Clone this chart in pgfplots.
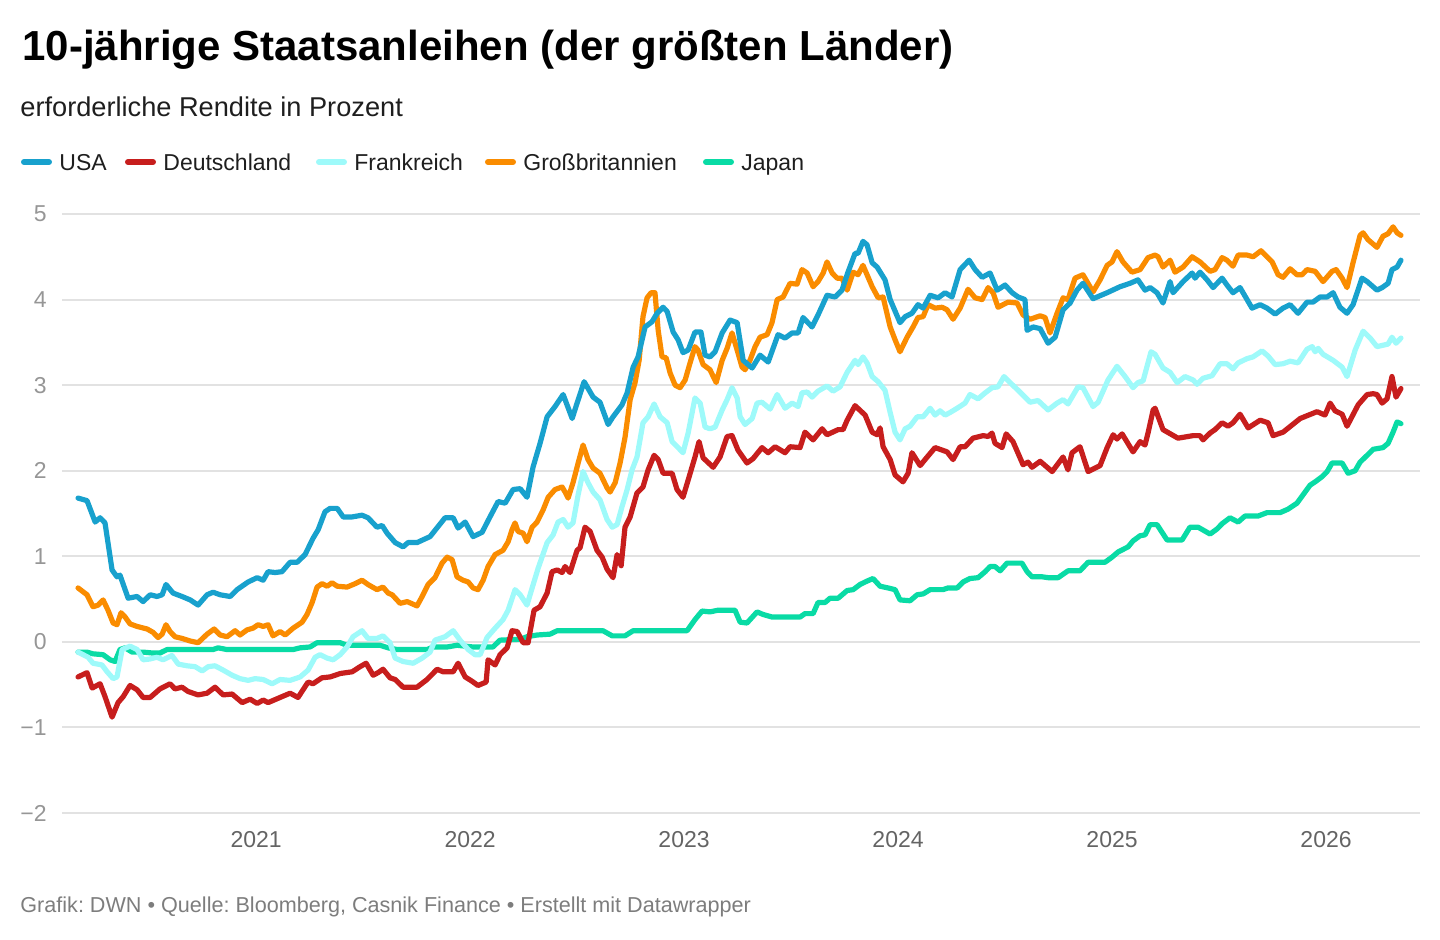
\documentclass[border=0pt]{standalone}
\usepackage{pgfplots}
\pgfplotsset{compat=1.18}
\usepackage{fontspec}
\setmainfont{Liberation Sans}
\definecolor{cUSA}{RGB}{24,161,205}
\definecolor{cDE}{RGB}{199,30,29}
\definecolor{cFR}{RGB}{158,250,250}
\definecolor{cGB}{RGB}{250,140,0}
\definecolor{cJP}{RGB}{9,219,165}
\definecolor{gridc}{RGB}{226,226,226}
\definecolor{ylab}{RGB}{150,150,150}
\definecolor{xlab}{RGB}{100,100,100}
\definecolor{foot}{RGB}{125,125,125}
\definecolor{txt}{RGB}{30,30,30}
\frenchspacing
\begin{document}
\begin{tikzpicture}
\path[use as bounding box] (0,0) rectangle (720pt,470pt);
% title, subtitle
\node[anchor=base west, inner sep=0pt] at (11pt,439.5pt) {\fontsize{21}{24}\selectfont\bfseries 10-jährige Staatsanleihen (der größten Länder)};
\node[anchor=base west, inner sep=0pt, text=txt] at (10pt,411.75pt) {\fontsize{13.6}{16}\selectfont erforderliche Rendite in Prozent};
% legend
\foreach \xa/\xt/\col/\lab in {10.5/29.5/cUSA/USA, 62.5/81.5/cDE/Deutschland, 158/177/cFR/Frankreich, 242.5/261.5/cGB/Großbritannien, 351.5/370.5/cJP/Japan}{
  \draw[\col, line width=3pt, line cap=round] (\xa pt+1.5pt,389pt) -- (\xa pt+14pt,389pt);
  \node[anchor=base west, inner sep=0pt, text=txt] at (\xt pt,384.5pt) {\fontsize{11.5}{14}\selectfont \lab};
}
% footer
\node[anchor=base west, inner sep=0pt, text=foot] at (10pt,13.5pt) {\fontsize{10.8}{12}\selectfont Grafik: DWN • Quelle: Bloomberg, Casnik Finance • Erstellt mit Datawrapper};
\begin{axis}[
  at={(31pt,63.5pt)}, anchor=south west,
  width=679pt, height=299.5pt, scale only axis,
  xmin=2020.093, xmax=2026.439, ymin=-2, ymax=5,
  axis line style={draw=none},
  tick style={draw=none},
  xtick={2021,2022,2023,2024,2025,2026},
  xticklabels={2021,2022,2023,2024,2025,2026},
  ytick={-2,-1,0,1,2,3,4,5},
  yticklabels={−2,−1,0,1,2,3,4,5},
  ymajorgrids,
  major grid style={gridc, line width=1pt},
  extra y ticks={0},
  extra y tick labels={},
  extra y tick style={grid style={black, line width=1pt}},
  xticklabel style={anchor=base, yshift=-17.5pt, text=xlab, font=\fontsize{11.5}{14}\selectfont},
  yticklabel style={anchor=east, inner sep=0pt, xshift=-7.5pt, text=ylab, font=\fontsize{11.5}{14}\selectfont},
  every axis plot/.append style={line width=2.6pt, line join=round, line cap=round, no markers},
]
% Japan
\addplot[cJP] coordinates {
(2020.168,-0.12)(2020.210,-0.12)(2020.238,-0.14)(2020.285,-0.15)(2020.318,-0.21)(2020.341,-0.23)(2020.364,-0.09)(2020.388,-0.07)(2020.421,-0.12)(2020.472,-0.12)(2020.514,-0.13)(2020.551,-0.13)(2020.584,-0.09)(2020.799,-0.09)(2020.822,-0.07)(2020.864,-0.09)(2021.173,-0.09)(2021.206,-0.07)(2021.252,-0.06)(2021.285,-0.01)(2021.393,-0.01)(2021.425,-0.04)(2021.579,-0.04)(2021.617,-0.07)(2021.659,-0.09)(2021.799,-0.09)(2021.827,-0.06)(2021.893,-0.06)(2021.939,-0.04)(2022.014,-0.06)(2022.107,-0.06)(2022.140,0.02)(2022.234,0.03)(2022.266,0.06)(2022.313,0.08)(2022.374,0.09)(2022.407,0.13)(2022.621,0.13)(2022.664,0.07)(2022.724,0.07)(2022.762,0.13)(2023.014,0.13)(2023.051,0.26)(2023.084,0.36)(2023.121,0.35)(2023.159,0.37)(2023.238,0.37)(2023.262,0.23)(2023.294,0.22)(2023.341,0.35)(2023.369,0.32)(2023.411,0.29)(2023.542,0.29)(2023.565,0.33)(2023.603,0.33)(2023.626,0.46)(2023.659,0.46)(2023.682,0.51)(2023.720,0.51)(2023.762,0.60)(2023.790,0.61)(2023.822,0.67)(2023.855,0.71)(2023.883,0.74)(2023.916,0.65)(2023.953,0.63)(2023.986,0.61)(2024.009,0.49)(2024.056,0.48)(2024.089,0.55)(2024.117,0.56)(2024.150,0.61)(2024.210,0.61)(2024.234,0.63)(2024.276,0.63)(2024.304,0.70)(2024.336,0.74)(2024.374,0.75)(2024.407,0.82)(2024.430,0.88)(2024.453,0.88)(2024.477,0.83)(2024.509,0.92)(2024.579,0.92)(2024.603,0.82)(2024.626,0.76)(2024.673,0.76)(2024.701,0.75)(2024.748,0.75)(2024.794,0.83)(2024.850,0.83)(2024.888,0.93)(2024.967,0.93)(2025.000,0.99)(2025.028,1.05)(2025.075,1.11)(2025.098,1.18)(2025.131,1.24)(2025.154,1.25)(2025.178,1.37)(2025.210,1.37)(2025.257,1.19)(2025.327,1.19)(2025.364,1.34)(2025.402,1.34)(2025.458,1.26)(2025.491,1.32)(2025.514,1.38)(2025.551,1.45)(2025.589,1.40)(2025.621,1.47)(2025.682,1.47)(2025.724,1.51)(2025.785,1.51)(2025.822,1.55)(2025.864,1.62)(2025.893,1.72)(2025.925,1.83)(2025.949,1.87)(2025.981,1.93)(2026.005,1.99)(2026.028,2.09)(2026.075,2.09)(2026.103,1.97)(2026.136,2.00)(2026.159,2.10)(2026.192,2.18)(2026.220,2.25)(2026.266,2.27)(2026.290,2.32)(2026.313,2.45)(2026.332,2.57)(2026.350,2.55)
};
% Grossbritannien
\addplot[cGB] coordinates {
(2020.168,0.63)(2020.210,0.55)(2020.238,0.41)(2020.262,0.43)(2020.285,0.49)(2020.308,0.37)(2020.332,0.22)(2020.350,0.20)(2020.369,0.34)(2020.388,0.29)(2020.411,0.21)(2020.444,0.18)(2020.491,0.15)(2020.519,0.11)(2020.542,0.05)(2020.561,0.09)(2020.579,0.20)(2020.598,0.12)(2020.621,0.06)(2020.654,0.04)(2020.692,0.01)(2020.729,-0.01)(2020.771,0.09)(2020.804,0.15)(2020.832,0.08)(2020.864,0.06)(2020.902,0.13)(2020.925,0.08)(2020.958,0.14)(2020.986,0.16)(2021.009,0.20)(2021.033,0.18)(2021.056,0.20)(2021.079,0.07)(2021.112,0.12)(2021.136,0.08)(2021.173,0.16)(2021.215,0.23)(2021.238,0.32)(2021.262,0.46)(2021.285,0.64)(2021.308,0.68)(2021.332,0.65)(2021.355,0.69)(2021.379,0.65)(2021.425,0.64)(2021.463,0.68)(2021.495,0.72)(2021.523,0.67)(2021.565,0.61)(2021.593,0.64)(2021.617,0.57)(2021.636,0.55)(2021.673,0.45)(2021.706,0.47)(2021.752,0.42)(2021.776,0.53)(2021.804,0.67)(2021.836,0.75)(2021.869,0.92)(2021.893,0.99)(2021.916,0.96)(2021.939,0.76)(2021.967,0.72)(2021.991,0.70)(2022.014,0.63)(2022.037,0.61)(2022.061,0.72)(2022.084,0.88)(2022.117,1.02)(2022.154,1.07)(2022.178,1.17)(2022.196,1.31)(2022.210,1.39)(2022.224,1.29)(2022.248,1.27)(2022.266,1.17)(2022.290,1.34)(2022.313,1.40)(2022.341,1.54)(2022.365,1.69)(2022.397,1.78)(2022.430,1.81)(2022.444,1.75)(2022.458,1.68)(2022.481,1.86)(2022.505,2.09)(2022.528,2.30)(2022.551,2.13)(2022.575,2.03)(2022.607,1.97)(2022.640,1.80)(2022.654,1.75)(2022.678,1.86)(2022.701,2.09)(2022.724,2.39)(2022.748,2.83)(2022.771,3.03)(2022.790,3.29)(2022.808,3.80)(2022.827,4.02)(2022.846,4.08)(2022.864,4.08)(2022.879,3.64)(2022.897,3.33)(2022.916,3.32)(2022.935,3.14)(2022.958,3.00)(2022.981,2.97)(2023.005,3.06)(2023.028,3.26)(2023.051,3.45)(2023.065,3.41)(2023.089,3.24)(2023.121,3.18)(2023.150,3.03)(2023.178,3.29)(2023.201,3.43)(2023.224,3.61)(2023.248,3.41)(2023.271,3.21)(2023.285,3.18)(2023.308,3.29)(2023.332,3.45)(2023.355,3.56)(2023.388,3.59)(2023.411,3.73)(2023.435,4.00)(2023.463,4.03)(2023.495,4.19)(2023.528,4.18)(2023.551,4.35)(2023.575,4.31)(2023.603,4.15)(2023.626,4.21)(2023.650,4.31)(2023.668,4.44)(2023.692,4.31)(2023.715,4.25)(2023.738,4.25)(2023.762,4.11)(2023.790,4.32)(2023.813,4.29)(2023.836,4.40)(2023.879,4.15)(2023.907,4.02)(2023.930,4.03)(2023.963,3.68)(2023.986,3.53)(2024.009,3.39)(2024.042,3.56)(2024.070,3.68)(2024.093,3.79)(2024.117,3.80)(2024.140,3.94)(2024.173,3.90)(2024.206,3.91)(2024.229,3.88)(2024.257,3.77)(2024.290,3.90)(2024.327,4.12)(2024.360,4.02)(2024.393,4.00)(2024.421,4.14)(2024.444,4.08)(2024.467,3.91)(2024.514,3.97)(2024.556,3.96)(2024.584,3.82)(2024.617,3.77)(2024.664,3.81)(2024.687,3.79)(2024.710,3.61)(2024.743,3.84)(2024.771,4.02)(2024.794,4.00)(2024.827,4.25)(2024.864,4.29)(2024.911,4.09)(2024.944,4.23)(2024.977,4.40)(2025.000,4.44)(2025.023,4.56)(2025.051,4.44)(2025.093,4.32)(2025.131,4.35)(2025.168,4.49)(2025.201,4.52)(2025.215,4.50)(2025.238,4.38)(2025.271,4.46)(2025.294,4.32)(2025.332,4.38)(2025.374,4.50)(2025.411,4.44)(2025.458,4.33)(2025.481,4.35)(2025.514,4.49)(2025.537,4.46)(2025.565,4.39)(2025.589,4.52)(2025.631,4.52)(2025.659,4.50)(2025.696,4.57)(2025.724,4.50)(2025.748,4.44)(2025.776,4.29)(2025.799,4.26)(2025.832,4.36)(2025.864,4.29)(2025.888,4.29)(2025.911,4.35)(2025.949,4.33)(2025.986,4.21)(2026.028,4.33)(2026.047,4.35)(2026.075,4.25)(2026.098,4.14)(2026.126,4.43)(2026.159,4.75)(2026.173,4.78)(2026.196,4.70)(2026.238,4.61)(2026.266,4.74)(2026.290,4.77)(2026.313,4.85)(2026.332,4.78)(2026.350,4.75)
};
% Frankreich
\addplot[cFR] coordinates {
(2020.168,-0.12)(2020.215,-0.18)(2020.238,-0.25)(2020.280,-0.27)(2020.304,-0.35)(2020.332,-0.43)(2020.350,-0.41)(2020.374,-0.09)(2020.411,-0.05)(2020.444,-0.09)(2020.472,-0.21)(2020.505,-0.20)(2020.537,-0.18)(2020.565,-0.21)(2020.607,-0.16)(2020.636,-0.26)(2020.678,-0.28)(2020.715,-0.29)(2020.748,-0.34)(2020.776,-0.29)(2020.808,-0.28)(2020.846,-0.33)(2020.888,-0.39)(2020.925,-0.43)(2020.963,-0.45)(2020.995,-0.43)(2021.033,-0.44)(2021.075,-0.49)(2021.112,-0.44)(2021.159,-0.45)(2021.206,-0.41)(2021.243,-0.33)(2021.276,-0.18)(2021.299,-0.15)(2021.332,-0.19)(2021.360,-0.21)(2021.393,-0.15)(2021.425,-0.06)(2021.453,0.06)(2021.495,0.13)(2021.523,0.04)(2021.565,0.04)(2021.593,0.07)(2021.626,-0.01)(2021.650,-0.19)(2021.687,-0.23)(2021.734,-0.25)(2021.776,-0.19)(2021.813,-0.12)(2021.836,0.02)(2021.883,0.06)(2021.921,0.13)(2021.953,0.02)(2021.991,-0.09)(2022.023,-0.15)(2022.047,-0.15)(2022.079,0.05)(2022.117,0.16)(2022.154,0.26)(2022.178,0.37)(2022.210,0.61)(2022.234,0.55)(2022.266,0.43)(2022.290,0.63)(2022.318,0.86)(2022.360,1.16)(2022.388,1.25)(2022.411,1.40)(2022.435,1.43)(2022.458,1.34)(2022.481,1.39)(2022.505,1.72)(2022.528,1.99)(2022.551,1.86)(2022.575,1.75)(2022.607,1.66)(2022.640,1.43)(2022.664,1.34)(2022.687,1.37)(2022.710,1.58)(2022.734,1.78)(2022.757,2.01)(2022.780,2.16)(2022.808,2.56)(2022.832,2.63)(2022.860,2.78)(2022.888,2.63)(2022.921,2.56)(2022.944,2.34)(2022.972,2.27)(2022.995,2.21)(2023.019,2.44)(2023.051,2.85)(2023.075,2.79)(2023.098,2.51)(2023.121,2.49)(2023.145,2.51)(2023.178,2.71)(2023.201,2.83)(2023.224,2.97)(2023.248,2.85)(2023.262,2.63)(2023.285,2.54)(2023.318,2.61)(2023.341,2.79)(2023.364,2.80)(2023.402,2.72)(2023.435,2.89)(2023.472,2.73)(2023.505,2.79)(2023.533,2.75)(2023.551,2.91)(2023.575,2.92)(2023.598,2.86)(2023.626,2.93)(2023.668,2.99)(2023.696,2.93)(2023.729,2.98)(2023.762,3.15)(2023.799,3.29)(2023.813,3.24)(2023.836,3.33)(2023.855,3.26)(2023.879,3.10)(2023.907,3.04)(2023.939,2.94)(2023.963,2.68)(2023.986,2.45)(2024.009,2.36)(2024.033,2.49)(2024.056,2.52)(2024.089,2.63)(2024.117,2.63)(2024.150,2.73)(2024.173,2.65)(2024.196,2.70)(2024.220,2.65)(2024.243,2.68)(2024.276,2.73)(2024.313,2.79)(2024.336,2.89)(2024.374,2.84)(2024.407,2.91)(2024.439,2.97)(2024.467,2.98)(2024.495,3.10)(2024.523,3.03)(2024.561,2.94)(2024.593,2.86)(2024.617,2.80)(2024.654,2.82)(2024.701,2.71)(2024.743,2.79)(2024.771,2.83)(2024.794,2.78)(2024.841,2.98)(2024.864,2.97)(2024.911,2.75)(2024.935,2.80)(2024.981,3.06)(2025.023,3.22)(2025.061,3.10)(2025.098,2.97)(2025.121,3.03)(2025.145,3.05)(2025.182,3.39)(2025.201,3.36)(2025.238,3.20)(2025.271,3.15)(2025.304,3.03)(2025.341,3.10)(2025.379,3.06)(2025.397,3.01)(2025.425,3.08)(2025.467,3.11)(2025.505,3.25)(2025.537,3.25)(2025.565,3.19)(2025.589,3.26)(2025.631,3.31)(2025.659,3.33)(2025.701,3.40)(2025.729,3.34)(2025.762,3.24)(2025.799,3.25)(2025.832,3.28)(2025.869,3.26)(2025.911,3.42)(2025.935,3.45)(2025.949,3.39)(2025.963,3.43)(2025.986,3.36)(2026.033,3.29)(2026.075,3.21)(2026.098,3.10)(2026.136,3.41)(2026.173,3.63)(2026.206,3.55)(2026.238,3.45)(2026.290,3.48)(2026.308,3.56)(2026.327,3.49)(2026.350,3.55)
};
% Deutschland
\addplot[cDE] coordinates {
(2020.168,-0.41)(2020.210,-0.36)(2020.234,-0.54)(2020.271,-0.49)(2020.294,-0.64)(2020.327,-0.88)(2020.355,-0.71)(2020.379,-0.64)(2020.411,-0.51)(2020.444,-0.56)(2020.472,-0.65)(2020.505,-0.65)(2020.551,-0.55)(2020.598,-0.49)(2020.621,-0.55)(2020.654,-0.53)(2020.682,-0.58)(2020.729,-0.62)(2020.771,-0.60)(2020.808,-0.53)(2020.846,-0.62)(2020.888,-0.61)(2020.935,-0.71)(2020.972,-0.67)(2021.005,-0.72)(2021.033,-0.68)(2021.056,-0.71)(2021.112,-0.65)(2021.159,-0.60)(2021.196,-0.65)(2021.243,-0.47)(2021.266,-0.49)(2021.308,-0.42)(2021.346,-0.41)(2021.393,-0.37)(2021.449,-0.35)(2021.486,-0.29)(2021.514,-0.25)(2021.547,-0.39)(2021.570,-0.36)(2021.593,-0.32)(2021.626,-0.42)(2021.650,-0.44)(2021.687,-0.53)(2021.752,-0.53)(2021.799,-0.44)(2021.846,-0.32)(2021.874,-0.35)(2021.921,-0.35)(2021.944,-0.25)(2021.977,-0.41)(2022.009,-0.46)(2022.037,-0.51)(2022.075,-0.47)(2022.084,-0.21)(2022.117,-0.27)(2022.140,-0.15)(2022.173,-0.07)(2022.196,0.13)(2022.220,0.12)(2022.248,-0.01)(2022.271,-0.01)(2022.299,0.37)(2022.327,0.41)(2022.360,0.57)(2022.383,0.82)(2022.407,0.84)(2022.430,0.81)(2022.444,0.88)(2022.467,0.81)(2022.500,1.07)(2022.514,1.10)(2022.537,1.34)(2022.561,1.29)(2022.593,1.07)(2022.617,0.99)(2022.640,0.85)(2022.668,0.75)(2022.687,1.02)(2022.706,0.89)(2022.724,1.34)(2022.748,1.46)(2022.780,1.74)(2022.808,1.81)(2022.832,2.01)(2022.860,2.18)(2022.879,2.13)(2022.902,1.97)(2022.944,1.97)(2022.967,1.78)(2022.995,1.69)(2023.019,1.89)(2023.051,2.16)(2023.070,2.34)(2023.089,2.15)(2023.136,2.04)(2023.168,2.16)(2023.201,2.40)(2023.224,2.41)(2023.252,2.24)(2023.294,2.09)(2023.322,2.14)(2023.364,2.27)(2023.393,2.21)(2023.425,2.28)(2023.472,2.21)(2023.495,2.28)(2023.542,2.27)(2023.565,2.45)(2023.603,2.36)(2023.645,2.49)(2023.668,2.42)(2023.720,2.48)(2023.743,2.48)(2023.762,2.59)(2023.799,2.76)(2023.846,2.65)(2023.879,2.45)(2023.902,2.42)(2023.916,2.50)(2023.930,2.28)(2023.963,2.13)(2023.986,1.95)(2024.023,1.87)(2024.047,1.97)(2024.065,2.21)(2024.103,2.06)(2024.136,2.16)(2024.173,2.27)(2024.229,2.22)(2024.257,2.13)(2024.290,2.28)(2024.313,2.28)(2024.350,2.38)(2024.397,2.41)(2024.421,2.40)(2024.439,2.44)(2024.453,2.32)(2024.486,2.27)(2024.505,2.43)(2024.537,2.34)(2024.584,2.07)(2024.607,2.10)(2024.626,2.04)(2024.664,2.11)(2024.720,1.99)(2024.771,2.16)(2024.794,2.01)(2024.813,2.21)(2024.850,2.28)(2024.888,1.99)(2024.944,2.06)(2024.977,2.27)(2025.005,2.42)(2025.023,2.37)(2025.047,2.43)(2025.098,2.22)(2025.131,2.34)(2025.154,2.30)(2025.168,2.44)(2025.192,2.71)(2025.201,2.73)(2025.238,2.48)(2025.308,2.38)(2025.379,2.41)(2025.411,2.41)(2025.425,2.36)(2025.458,2.44)(2025.481,2.48)(2025.514,2.56)(2025.542,2.52)(2025.565,2.56)(2025.598,2.66)(2025.636,2.50)(2025.692,2.59)(2025.729,2.56)(2025.752,2.41)(2025.799,2.45)(2025.879,2.61)(2025.958,2.69)(2025.995,2.65)(2026.019,2.79)(2026.042,2.70)(2026.075,2.66)(2026.098,2.52)(2026.150,2.77)(2026.192,2.89)(2026.220,2.90)(2026.238,2.89)(2026.262,2.79)(2026.285,2.84)(2026.308,3.10)(2026.327,2.86)(2026.350,2.96)
};
% USA
\addplot[cUSA] coordinates {
(2020.168,1.68)(2020.210,1.65)(2020.248,1.40)(2020.271,1.45)(2020.294,1.39)(2020.327,0.84)(2020.350,0.76)(2020.364,0.78)(2020.402,0.51)(2020.444,0.53)(2020.472,0.47)(2020.505,0.55)(2020.537,0.53)(2020.561,0.55)(2020.579,0.67)(2020.612,0.57)(2020.654,0.53)(2020.692,0.49)(2020.729,0.43)(2020.771,0.55)(2020.799,0.58)(2020.832,0.55)(2020.879,0.53)(2020.911,0.61)(2020.963,0.70)(2021.005,0.75)(2021.033,0.72)(2021.056,0.82)(2021.089,0.81)(2021.121,0.82)(2021.159,0.93)(2021.192,0.93)(2021.229,1.02)(2021.266,1.21)(2021.290,1.31)(2021.322,1.52)(2021.346,1.56)(2021.379,1.56)(2021.407,1.46)(2021.449,1.46)(2021.495,1.48)(2021.523,1.45)(2021.565,1.34)(2021.589,1.36)(2021.612,1.27)(2021.650,1.16)(2021.687,1.11)(2021.710,1.16)(2021.752,1.16)(2021.813,1.23)(2021.883,1.45)(2021.921,1.45)(2021.944,1.33)(2021.977,1.40)(2022.014,1.23)(2022.056,1.28)(2022.093,1.46)(2022.131,1.64)(2022.164,1.62)(2022.201,1.78)(2022.234,1.79)(2022.266,1.69)(2022.294,2.04)(2022.327,2.32)(2022.360,2.63)(2022.397,2.75)(2022.435,2.89)(2022.477,2.61)(2022.500,2.79)(2022.533,3.04)(2022.575,2.86)(2022.607,2.80)(2022.645,2.54)(2022.668,2.63)(2022.710,2.77)(2022.734,2.91)(2022.762,3.21)(2022.785,3.33)(2022.818,3.68)(2022.850,3.74)(2022.874,3.84)(2022.902,3.91)(2022.921,3.86)(2022.949,3.62)(2022.972,3.53)(2022.995,3.38)(2023.019,3.41)(2023.051,3.62)(2023.079,3.62)(2023.098,3.35)(2023.121,3.33)(2023.145,3.39)(2023.178,3.61)(2023.215,3.76)(2023.248,3.73)(2023.276,3.29)(2023.318,3.20)(2023.355,3.35)(2023.393,3.27)(2023.439,3.59)(2023.472,3.55)(2023.505,3.61)(2023.533,3.61)(2023.556,3.79)(2023.598,3.68)(2023.626,3.82)(2023.668,4.05)(2023.706,4.03)(2023.738,4.11)(2023.766,4.32)(2023.799,4.54)(2023.813,4.54)(2023.836,4.68)(2023.855,4.64)(2023.879,4.43)(2023.902,4.38)(2023.939,4.23)(2023.963,4.00)(2024.009,3.73)(2024.033,3.80)(2024.065,3.84)(2024.093,3.94)(2024.117,3.90)(2024.150,4.05)(2024.187,4.02)(2024.220,4.08)(2024.252,4.03)(2024.290,4.35)(2024.332,4.46)(2024.360,4.35)(2024.393,4.26)(2024.430,4.31)(2024.463,4.11)(2024.500,4.17)(2024.533,4.08)(2024.561,4.03)(2024.593,4.00)(2024.603,3.64)(2024.631,3.68)(2024.664,3.66)(2024.701,3.49)(2024.734,3.56)(2024.771,3.88)(2024.804,3.96)(2024.836,4.11)(2024.864,4.19)(2024.911,4.01)(2024.977,4.08)(2025.037,4.15)(2025.084,4.19)(2025.121,4.23)(2025.154,4.11)(2025.178,4.14)(2025.210,4.08)(2025.238,3.96)(2025.271,4.21)(2025.285,4.08)(2025.332,4.21)(2025.374,4.31)(2025.388,4.25)(2025.411,4.32)(2025.444,4.23)(2025.472,4.14)(2025.514,4.25)(2025.537,4.17)(2025.565,4.08)(2025.598,4.14)(2025.654,3.90)(2025.692,3.94)(2025.724,3.90)(2025.762,3.83)(2025.799,3.90)(2025.832,3.94)(2025.869,3.84)(2025.911,3.97)(2025.939,3.97)(2025.972,4.03)(2026.005,4.03)(2026.033,4.08)(2026.065,3.91)(2026.098,3.84)(2026.126,3.94)(2026.168,4.25)(2026.192,4.21)(2026.238,4.11)(2026.262,4.14)(2026.290,4.19)(2026.308,4.35)(2026.332,4.38)(2026.350,4.46)
};
\end{axis}
\end{tikzpicture}
\end{document}
